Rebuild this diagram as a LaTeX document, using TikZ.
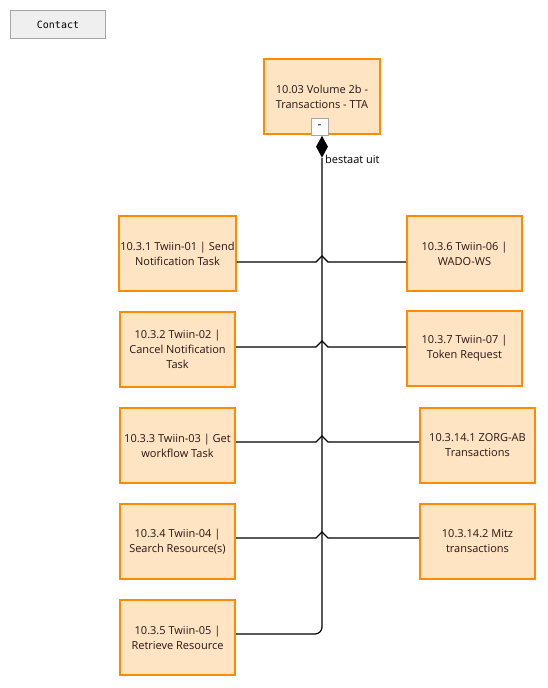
\documentclass[tikz,border=0pt]{standalone}
\usepackage{fontspec}
\setmainfont{Open Sans}
\setmonofont{DejaVu Sans Mono}
\usetikzlibrary{shapes.geometric}

\definecolor{boxline}{RGB}{255,140,0}
\definecolor{boxfill}{RGB}{255,228,196}
\definecolor{boxtext}{RGB}{40,20,20}
\definecolor{greyfill}{RGB}{238,239,238}
\definecolor{greyline}{RGB}{165,165,165}

\begin{document}
\begin{tikzpicture}[x=1pt,y=-1pt]
		% Node style
		\tikzset{item style/.style={draw=boxline,
								fill=boxfill,
								line width=2pt,
								minimum width=115pt,
								minimum height=75pt,
								inner sep=1pt,
								align=center,
								text=boxtext,
								font=\fontsize{11}{15}\selectfont},
				link style/.style={line width=1.2pt}}
		
		\useasboundingbox (0,0) rectangle (548,688);
		
		% Draw nodes
		\node[draw=greyline, fill=greyfill, line width=1pt,
			minimum width=95pt, minimum height=28pt,
			font=\ttfamily\fontsize{10}{12}\selectfont] at (58, 24.5) (contact) {Contact};
		\node[item style, minimum width=116pt] at (322, 96.5)	(tta) {10.03 Volume 2b -\\Transactions - TTA};
		\node[draw=greyline, fill=white, line width=0.8pt,
			minimum size=17pt, inner sep=0pt,
			font=\fontsize{12}{12}\selectfont] at (319.5, 127)	(tog) {-};
		\node[diamond, fill=black, inner sep=0pt,
			minimum width=12pt, minimum height=22pt, anchor=north] at (322, 135.5) (dia) {};
		\node[anchor=west, inner sep=1pt,
			font=\fontsize{11}{13}\selectfont] at (324, 159)	(rel) {bestaat uit};
		
		\node[item style] at (177.5, 253.5)	(l1) {10.3.1 Twiin-01 | Send\\Notification Task};
		\node[item style] at (177.5, 349.5)	(l2) {10.3.2 Twiin-02 |\\Cancel Notification\\Task};
		\node[item style] at (177.5, 445.5)	(l3) {10.3.3 Twiin-03 | Get\\workflow Task};
		\node[item style] at (177.5, 541.5)	(l4) {10.3.4 Twiin-04 |\\Search Resource(s)};
		\node[item style] at (177.5, 637.5)	(l5) {10.3.5 Twiin-05 |\\Retrieve Resource};
		
		\node[item style] at (464.5, 253.5)	(r1) {10.3.6 Twiin-06 |\\WADO-WS};
		\node[item style] at (464.5, 348.5)	(r2) {10.3.7 Twiin-07 |\\Token Request};
		\node[item style] at (477.5, 445.5)	(r3) {10.3.14.1 ZORG-AB\\Transactions};
		\node[item style] at (477.5, 541.5)	(r4) {10.3.14.2 Mitz\\transactions};
		
		% Trunk points
		\coordinate (j1) at (322, 262);
		\coordinate (j2) at (322, 347);
		\coordinate (j3) at (322, 442);
		\coordinate (j4) at (322, 538);
		\coordinate (j5) at (322, 634);
		
		% Draw connectors
		\draw[link style, rounded corners=7pt] (dia.south) -- (j5) -- (l5.east |- j5);
		\draw[link style] (l1.east |- j1) -- ([xshift=-6pt]j1) -- ([yshift=6pt]j1) 
			-- ([xshift=6pt]j1) -- (r1.west |- j1);
		\draw[link style] (l2.east |- j2) -- ([xshift=-6pt]j2) -- ([yshift=6pt]j2) 
			-- ([xshift=6pt]j2) -- (r2.west |- j2);
		\draw[link style] (l3.east |- j3) -- ([xshift=-6pt]j3) -- ([yshift=6pt]j3) 
			-- ([xshift=6pt]j3) -- (r3.west |- j3);
		\draw[link style] (l4.east |- j4) -- ([xshift=-6pt]j4) -- ([yshift=6pt]j4) 
			-- ([xshift=6pt]j4) -- (r4.west |- j4);
		
	\end{tikzpicture}
\end{document}
